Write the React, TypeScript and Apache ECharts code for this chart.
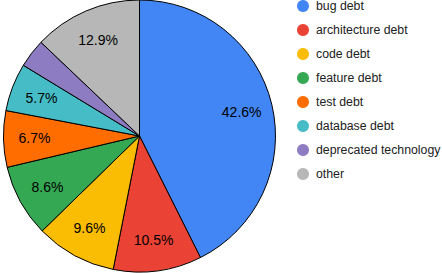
import React, { useEffect, useRef } from "react";
import * as echarts from "echarts";

const categories = [
  "bug debt",
  "architecture debt",
  "code debt",
  "feature debt",
  "test debt",
  "database debt",
  "deprecated technology",
  "other",
];
const values = [42.6, 10.5, 9.6, 8.6, 6.7, 5.7, 3.4, 12.9];
const colors = ["#4285f4", "#ea4335", "#fbbc04", "#34a853", "#ff6d01", "#46bdc6", "#8e7cc3", "#b7b7b7"];
const hiddenLabels = ["deprecated technology"];

export default function App() {
  const ref = useRef<HTMLDivElement>(null);
  useEffect(() => {
    if (!ref.current) return;
    const chart = echarts.init(ref.current, null, { renderer: "svg" });
    const data = categories.map((c, i) => ({
      name: c,
      value: values[i],
      itemStyle: { color: colors[i] },
    }));
    const labelData = categories.map((c, i) => ({
      name: c,
      value: values[i],
      label: { show: !hiddenLabels.includes(c) },
    }));
    chart.setOption({
      animation: false,
      color: colors,
      legend: {
        orient: "vertical",
        left: 297,
        top: 0,
        padding: 0,
        itemGap: 12,
        itemWidth: 12,
        itemHeight: 12,
        icon: "circle",
        data: categories,
        itemStyle: { borderWidth: 0 },
        textStyle: {
          fontFamily: "Liberation Sans, Arial, sans-serif",
          fontSize: 12.3,
          lineHeight: 12,
          color: "#222222",
          padding: [0, 0, 0, 2],
        },
      },
      series: [
        {
          type: "pie",
          center: [139.5, 136],
          radius: [0, 136],
          startAngle: 90,
          clockwise: true,
          data,
          label: { show: false },
          labelLine: { show: false },
          itemStyle: { borderColor: "#000000", borderWidth: 1 },
          emphasis: { disabled: true },
        },
        {
          type: "pie",
          center: [139.5, 136],
          radius: [68, 136],
          startAngle: 90,
          clockwise: true,
          silent: true,
          legendHoverLink: false,
          data: labelData,
          itemStyle: { color: "transparent", borderWidth: 0 },
          label: {
            show: true,
            position: "inside",
            formatter: (p: any) => p.value.toFixed(1) + "%",
            fontFamily: "Liberation Sans, Arial, sans-serif",
            fontSize: 14,
            color: "#000000",
          },
          labelLine: { show: false },
          emphasis: { disabled: true },
        },
      ],
    });
    return () => chart.dispose();
  }, []);
  return <div ref={ref} style={{ width: 442, height: 273, position: "absolute", left: 0, top: 0 }} />;
}
